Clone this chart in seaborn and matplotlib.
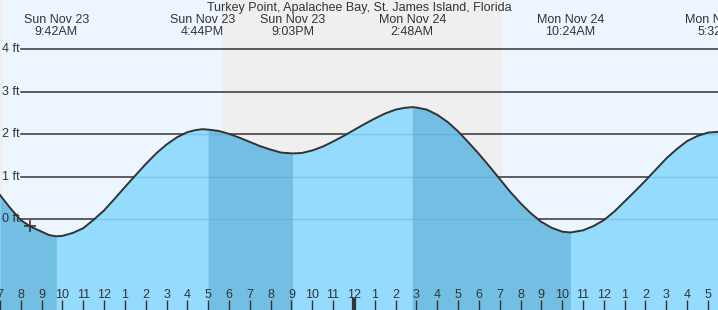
import matplotlib
matplotlib.use("Agg")
import matplotlib.pyplot as plt
import matplotlib.transforms as mtransforms
import seaborn as sns
import pandas as pd
import numpy as np

# ---- data (hours since Sun Nov 23 00:00), every half hour ----
curve_hours = [7.0, 7.5, 8.0, 8.5, 9.0, 9.35, 9.7, 10.0, 10.5, 11.0, 11.5, 12.0, 12.5,
               13.0, 13.5, 14.0, 14.5, 15.0, 15.5, 16.0, 16.4, 16.73,
               17.0, 17.5, 18.0, 18.5, 19.0, 19.5, 20.0, 20.5, 21.05,
               21.5, 22.0, 22.5, 23.0, 23.5, 24.0, 24.5, 25.0, 25.5, 26.0, 26.4, 26.8,
               27.0, 27.5, 28.0, 28.5, 29.0, 29.5, 30.0, 30.5, 31.0, 31.5, 32.0, 32.5,
               33.0, 33.5, 34.0, 34.4,
               35.0, 35.5, 36.0, 36.5, 37.0, 37.5, 38.0, 38.5, 39.0, 39.5, 40.0, 40.5,
               41.0, 41.53]
curve_feet = [0.57, 0.26, -0.02, -0.18, -0.29, -0.37, -0.40, -0.39, -0.32, -0.21, -0.01, 0.21, 0.48,
              0.76, 1.03, 1.30, 1.55, 1.76, 1.93, 2.05, 2.10, 2.12,
              2.11, 2.08, 2.01, 1.92, 1.82, 1.72, 1.64, 1.57, 1.55,
              1.56, 1.62, 1.71, 1.83, 1.96, 2.10, 2.24, 2.37, 2.49, 2.58, 2.62, 2.64,
              2.63, 2.58, 2.46, 2.29, 2.07, 1.81, 1.54, 1.25, 0.95, 0.65, 0.38, 0.14,
              -0.06, -0.20, -0.29, -0.31,
              -0.26, -0.16, -0.02, 0.18, 0.42, 0.66, 0.91, 1.17, 1.43, 1.65, 1.84, 1.96,
              2.04, 2.06]

event_hours = [9.7, 16.733, 21.05, 26.8, 34.4, 41.533]
event_days = ["Sun Nov 23", "Sun Nov 23", "Sun Nov 23", "Mon Nov 24", "Mon Nov 24", "Mon Nov 24"]
event_times = ["9:42AM", "4:44PM", "9:03PM", "2:48AM", "10:24AM", "5:32PM"]

# falling-tide (darker) intervals
falling_start = [7.0, 16.733, 26.8]
falling_end = [9.7, 21.05, 34.4]

night_start = [0.0, 17.66]
night_end = [7.13, 31.11]

hour_ticks = list(range(7, 42))
hour_labels = [str((h - 1) % 12 + 1) for h in hour_ticks]

ft_levels = [0, 1, 2, 3, 4]
ft_labels = ["0 ft", "1 ft", "2 ft", "3 ft", "4 ft"]

now_hour = [8.44]
now_feet = [-0.16]

title = "Turkey Point, Apalachee Bay, St. James Island, Florida"

# ---- style ----
plt.rcParams['font.family'] = ['Liberation Sans', 'DejaVu Sans']
TXT = "#333333"
DAY = "#EDF6FF"
NIGHT = "#EFEFEF"
WATER = "#94DBFE"
WATER_DARK = "#72BFE3"

W, H = 718, 310
px_per_hour = 20.82
x0 = 7.0
x1 = x0 + W / px_per_hour
px_per_ft = 42.5
y_zero_px = 219.3
y0 = -(H - y_zero_px) / px_per_ft
y1 = y_zero_px / px_per_ft

fig = plt.figure(figsize=(W / 100, H / 100), dpi=100)
ax = fig.add_axes([0, 0, 1, 1])
ax.set_xlim(x0, x1)
ax.set_ylim(y0, y1)
ax.set_facecolor(DAY)
for s in ax.spines.values():
    s.set_visible(False)

for a, b in zip(night_start, night_end):
    ax.axvspan(a, b, color=NIGHT, lw=0, zorder=0.5)

df = pd.DataFrame({"hour": curve_hours, "feet": curve_feet})

# grid lines (black, visible above the water)
grid_xmin = 21 / W
for lv in ft_levels:
    ax.axhline(lv, xmin=grid_xmin, xmax=1, color=TXT, lw=1.1, zorder=1)

# water fill
hrs = np.array(curve_hours)
fts = np.array(curve_feet)
poly = ax.fill_between(hrs, y0, fts, color=WATER, lw=0, zorder=2)
for a, b in zip(falling_start, falling_end):
    m = (hrs >= a - 1e-6) & (hrs <= b + 1e-6)
    ax.fill_between(hrs[m], y0, fts[m], color=WATER_DARK, lw=0, zorder=2.1)

# faint grid inside water
clip = poly.get_paths()[0]
for lv in ft_levels:
    ln = ax.axhline(lv, xmin=0, xmax=1, color="#4f9fcc", alpha=0.35, lw=1, zorder=2.5)
    ln.set_clip_path(clip, transform=ax.transData)

sns.lineplot(data=df, x="hour", y="feet", ax=ax, color="#333333", lw=1.4, zorder=3,
             estimator=None, sort=False)

sns.scatterplot(x=now_hour, y=now_feet, ax=ax, marker="+", s=70, color="#333333",
                linewidth=1.2, zorder=4)

ax.set_xlabel("")
ax.set_ylabel("")

# y labels
ytrans = mtransforms.blended_transform_factory(ax.transAxes, ax.transData)
for lv, lab in zip(ft_levels, ft_labels):
    ax.text(2 / W, lv, lab, transform=ytrans, ha="left", va="center", fontsize=9,
            color=TXT, zorder=5)

# x ticks
ax.set_yticks([])
ax.set_xticks(hour_ticks)
ax.set_xticklabels([])
ax.xaxis.set_zorder(6)
ax.tick_params(axis="x", direction="in", length=7, width=1, color=TXT, bottom=True)
for t, h in zip(ax.xaxis.get_major_ticks(), hour_ticks):
    if h % 24 == 0:
        t.tick1line.set_markeredgewidth(3)
        t.tick1line.set_markersize(9)
xtrans = mtransforms.blended_transform_factory(ax.transData, ax.transAxes)
for h, lab in zip(hour_ticks, hour_labels):
    ax.text(h, (H - 295) / H, lab, transform=xtrans, ha="center", va="center",
            fontsize=9, color=TXT, zorder=5)

# event labels
for h, d, t in zip(event_hours, event_days, event_times):
    ax.text(h, 1 - 20 / H, d, transform=xtrans, ha="center", va="center", fontsize=9,
            color=TXT, zorder=5)
    ax.text(h, 1 - 32 / H, t, transform=xtrans, ha="center", va="center", fontsize=9,
            color=TXT, zorder=5)

ax.text(0.5, 1 - 7.5 / H, title, transform=ax.transAxes, ha="center", va="center",
        fontsize=9, color=TXT, zorder=5)

fig.savefig("out.png", dpi=100)
